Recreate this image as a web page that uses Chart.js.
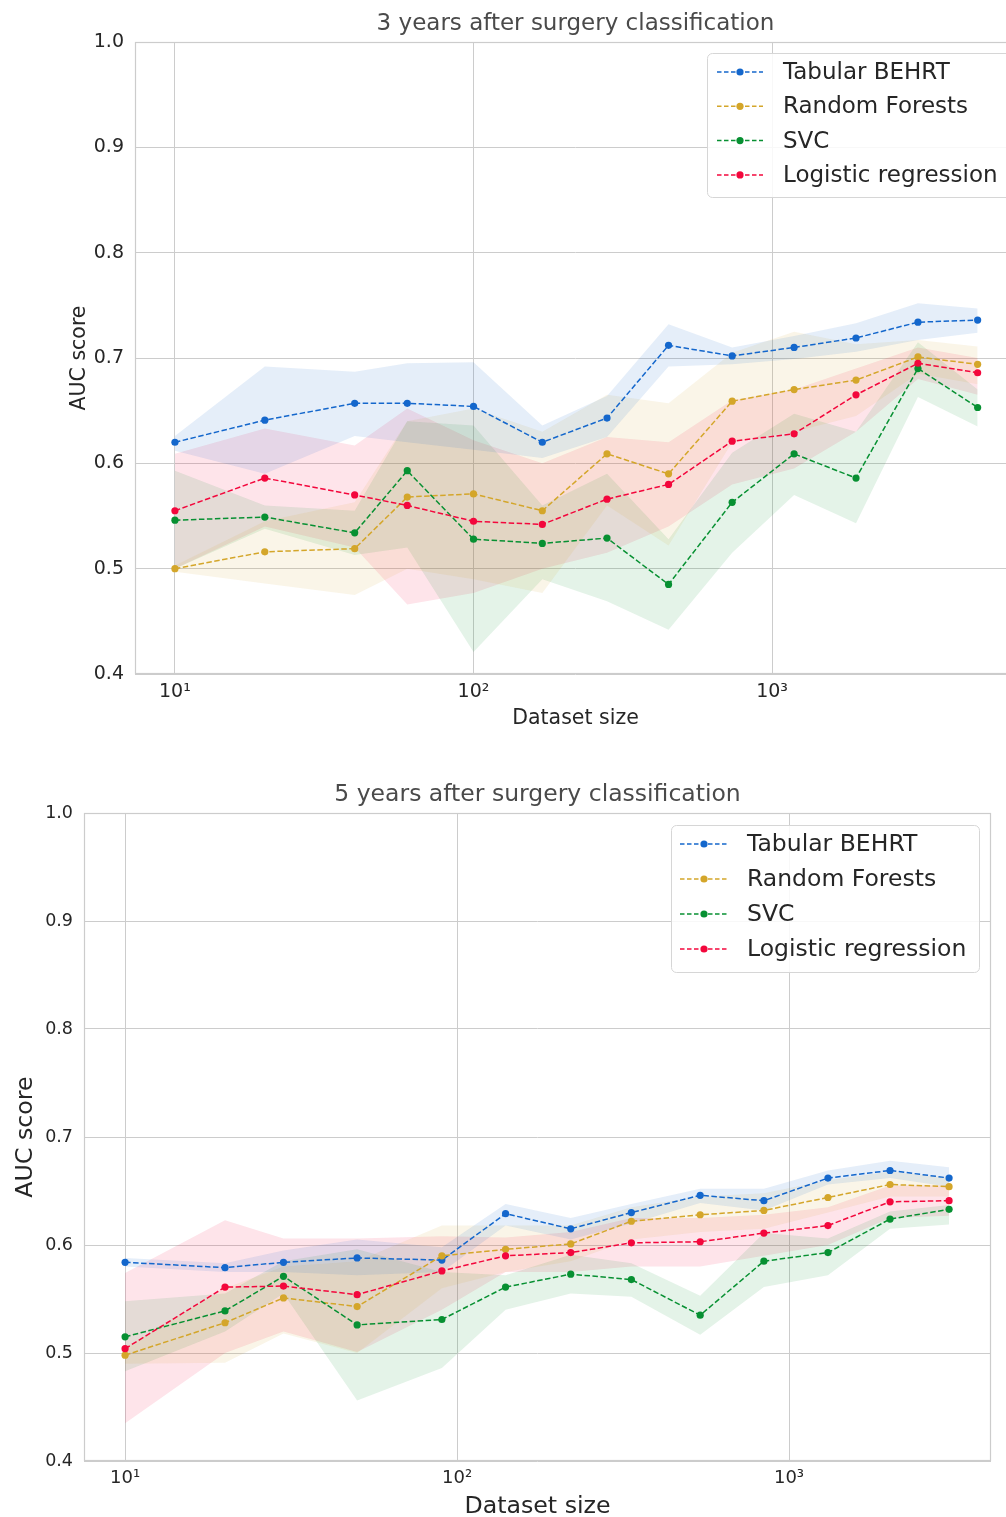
<!DOCTYPE html>
<html>
<head>
<meta charset="utf-8">
<script src="https://cdn.jsdelivr.net/npm/chart.js@4.4.1/dist/chart.umd.min.js"></script>
<style>
  html, body { margin: 0; padding: 0; background: #ffffff; width: 1006px; height: 1517px; overflow: hidden; }
  .panel { position: absolute; left: 0; }
  #panelTop { top: 0; }
  #panelBottom { top: 745px; }
</style>
</head>
<body>
<div class="panel" id="panelTop"><canvas id="chartTop" width="1020" height="745"></canvas></div>
<div class="panel" id="panelBottom"><canvas id="chartBottom" width="1006" height="780"></canvas></div>
<script>
// ---- shared labels ----
const seriesNames = ['Tabular BEHRT', 'Random Forests', 'SVC', 'Logistic regression'];
const seriesColors = ['#1467cc', '#d4a62a', '#079032', '#f3073c'];
const bandColors = ['rgba(20,103,204,0.11)', 'rgba(212,166,42,0.11)', 'rgba(7,144,50,0.11)', 'rgba(243,7,60,0.11)'];
const xTickValues = [10, 100, 1000];
const xTickLabels = ['10\u00B9', '10\u00B2', '10\u00B3'];

// ---- 3 years after surgery ----
const sizes3y = [10, 20, 40, 60, 100, 170, 280, 450, 735, 1185, 1910, 3080, 4880];
const behrt3y   = [0.620, 0.641, 0.657, 0.657, 0.654, 0.620, 0.643, 0.712, 0.702, 0.710, 0.719, 0.734, 0.736];
const behrt3yLo = [0.612, 0.590, 0.626, 0.620, 0.613, 0.605, 0.625, 0.692, 0.694, 0.699, 0.706, 0.717, 0.724];
const behrt3yHi = [0.626, 0.692, 0.687, 0.695, 0.696, 0.636, 0.664, 0.732, 0.710, 0.721, 0.733, 0.752, 0.747];
const rf3y   = [0.500, 0.516, 0.519, 0.568, 0.571, 0.555, 0.609, 0.590, 0.659, 0.670, 0.679, 0.701, 0.694];
const rf3yLo = [0.497, 0.486, 0.475, 0.500, 0.490, 0.477, 0.560, 0.522, 0.620, 0.630, 0.645, 0.685, 0.675];
const rf3yHi = [0.503, 0.545, 0.563, 0.640, 0.652, 0.630, 0.665, 0.657, 0.705, 0.725, 0.713, 0.717, 0.711];
const svc3y   = [0.546, 0.549, 0.534, 0.593, 0.528, 0.524, 0.529, 0.485, 0.563, 0.609, 0.586, 0.690, 0.653];
const svc3yLo = [0.500, 0.538, 0.513, 0.520, 0.421, 0.490, 0.469, 0.442, 0.515, 0.570, 0.543, 0.663, 0.635];
const svc3yHi = [0.593, 0.560, 0.555, 0.640, 0.636, 0.560, 0.590, 0.528, 0.610, 0.647, 0.630, 0.715, 0.670];
const lr3y   = [0.555, 0.586, 0.570, 0.560, 0.545, 0.542, 0.566, 0.580, 0.621, 0.628, 0.665, 0.695, 0.686];
const lr3yLo = [0.500, 0.540, 0.520, 0.466, 0.477, 0.500, 0.515, 0.540, 0.580, 0.595, 0.630, 0.680, 0.665];
const lr3yHi = [0.609, 0.633, 0.617, 0.652, 0.622, 0.600, 0.625, 0.620, 0.660, 0.670, 0.690, 0.710, 0.700];

// ---- 5 years after surgery ----
const sizes5y = [10, 20, 30, 50, 90, 140, 220, 335, 540, 840, 1310, 2015, 3035];
const behrt5y   = [0.584, 0.579, 0.584, 0.588, 0.586, 0.629, 0.615, 0.630, 0.646, 0.641, 0.662, 0.669, 0.662];
const behrt5yLo = [0.580, 0.575, 0.575, 0.572, 0.575, 0.618, 0.605, 0.620, 0.639, 0.632, 0.656, 0.662, 0.654];
const behrt5yHi = [0.588, 0.583, 0.595, 0.605, 0.598, 0.638, 0.625, 0.638, 0.652, 0.652, 0.669, 0.678, 0.672];
const rf5y   = [0.498, 0.528, 0.551, 0.543, 0.590, 0.596, 0.601, 0.622, 0.628, 0.632, 0.644, 0.656, 0.654];
const rf5yLo = [0.490, 0.491, 0.518, 0.500, 0.560, 0.575, 0.585, 0.605, 0.612, 0.615, 0.630, 0.645, 0.645];
const rf5yHi = [0.505, 0.560, 0.580, 0.585, 0.618, 0.618, 0.618, 0.635, 0.645, 0.648, 0.660, 0.668, 0.662];
const svc5y   = [0.515, 0.539, 0.571, 0.526, 0.531, 0.561, 0.573, 0.568, 0.535, 0.585, 0.593, 0.624, 0.633];
const svc5yLo = [0.483, 0.520, 0.555, 0.456, 0.486, 0.540, 0.555, 0.552, 0.517, 0.561, 0.572, 0.615, 0.619];
const svc5yHi = [0.548, 0.555, 0.585, 0.596, 0.575, 0.572, 0.591, 0.583, 0.553, 0.611, 0.606, 0.631, 0.637];
const lr5y   = [0.504, 0.561, 0.562, 0.554, 0.576, 0.590, 0.593, 0.602, 0.603, 0.611, 0.618, 0.640, 0.641];
const lr5yLo = [0.435, 0.500, 0.520, 0.501, 0.540, 0.575, 0.575, 0.580, 0.580, 0.590, 0.600, 0.625, 0.627];
const lr5yHi = [0.574, 0.623, 0.606, 0.606, 0.608, 0.607, 0.612, 0.625, 0.625, 0.628, 0.635, 0.655, 0.655];

const FONT = "'DejaVu Sans', sans-serif";
const TEXT = '#262626';

// Frame around the plotting area (all four spines)
const framePlugin = {
  id: 'frame',
  afterDatasetsDraw(chart, args, o) {
    const { ctx, chartArea: a } = chart;
    ctx.save();
    ctx.strokeStyle = o.color;
    ctx.lineWidth = 1.2;
    ctx.strokeRect(a.left + 0.5, a.top + 0.5, a.right - a.left - 1, a.bottom - a.top - 1);
    ctx.restore();
  }
};

// Boxed legend placed inside the plotting area
const boxLegendPlugin = {
  id: 'boxLegend',
  afterDraw(chart, args, o) {
    const ctx = chart.ctx;
    ctx.save();
    ctx.beginPath();
    ctx.roundRect(o.x + 0.5, o.y + 0.5, o.w, o.h, 5);
    ctx.fillStyle = 'rgba(255,255,255,0.85)';
    ctx.fill();
    ctx.strokeStyle = '#d6d6d6';
    ctx.lineWidth = 1;
    ctx.stroke();
    const means = chart.data.datasets.filter(d => d.role === 'mean');
    means.forEach((d, i) => {
      const cy = o.y0 + i * o.rowH;
      ctx.setLineDash([4.5, 2.5]);
      ctx.strokeStyle = d.borderColor;
      ctx.lineWidth = 1.5;
      ctx.beginPath();
      ctx.moveTo(o.lineX0, cy);
      ctx.lineTo(o.lineX1, cy);
      ctx.stroke();
      ctx.setLineDash([]);
      ctx.beginPath();
      ctx.arc((o.lineX0 + o.lineX1) / 2, cy, 3.6, 0, Math.PI * 2);
      ctx.fillStyle = d.borderColor;
      ctx.fill();
      ctx.fillStyle = TEXT;
      ctx.font = o.fontSize + 'px ' + FONT;
      ctx.textBaseline = 'middle';
      ctx.textAlign = 'left';
      ctx.fillText(d.label, o.textX, cy + 1);
    });
    ctx.restore();
  }
};

function pts(xs, ys) { return xs.map((x, i) => ({ x: x, y: ys[i] })); }

function buildDatasets(sizes, groups) {
  const sets = [];
  groups.forEach((g, k) => {
    sets.push({ label: seriesNames[k] + ' lower', role: 'band', data: pts(sizes, g[1]),
      borderWidth: 0, pointRadius: 0, fill: false, borderColor: 'transparent' });
    sets.push({ label: seriesNames[k] + ' upper', role: 'band', data: pts(sizes, g[2]),
      borderWidth: 0, pointRadius: 0, fill: '-1', borderColor: 'transparent', backgroundColor: bandColors[k] });
  });
  groups.forEach((g, k) => {
    sets.push({ label: seriesNames[k], role: 'mean', data: pts(sizes, g[0]),
      borderColor: seriesColors[k], backgroundColor: seriesColors[k],
      borderWidth: 1.5, borderDash: [5.5, 2.5], fill: false, tension: 0,
      pointRadius: 3.6, pointBackgroundColor: seriesColors[k], pointBorderWidth: 0,
      order: 10 - k });
  });
  return sets;
}

function makeChart(id, cfg) {
  return new Chart(document.getElementById(id), {
    type: 'line',
    data: { datasets: buildDatasets(cfg.sizes, cfg.groups) },
    options: {
      responsive: false,
      animation: false,
      devicePixelRatio: 1,
      layout: { padding: cfg.padding },
      plugins: {
        legend: { display: false },
        tooltip: { enabled: false },
        filler: { drawTime: 'beforeDatasetsDraw' },
        title: {
          display: true, text: cfg.title, fullSize: false, color: '#4a4a4a',
          font: { family: FONT, size: cfg.titleSize, weight: 'normal', lineHeight: 1.2 },
          padding: cfg.titlePad
        },
        frame: { color: '#cccccc' },
        boxLegend: cfg.legend
      },
      scales: {
        x: {
          type: 'logarithmic', min: cfg.xMin, max: cfg.xMax,
          afterBuildTicks: s => { s.ticks = xTickValues.map(v => ({ value: v })); },
          afterFit: s => { s.height = cfg.xAxisH; },
          ticks: {
            autoSkip: false, maxRotation: 0, color: TEXT, padding: cfg.xTickPad,
            font: { family: FONT, size: cfg.xTickSize },
            callback: v => { const i = xTickValues.indexOf(v); return i >= 0 ? xTickLabels[i] : ''; }
          },
          grid: { color: '#cccccc', lineWidth: 1, drawTicks: false },
          border: { display: false },
          title: { display: true, text: 'Dataset size', color: TEXT,
            font: { family: FONT, size: cfg.axisTitleSize, lineHeight: 1.2 },
            padding: { top: 0, bottom: cfg.xTitlePadBottom } }
        },
        y: {
          min: 0.4, max: 1.0,
          afterFit: s => { s.width = cfg.yAxisW; },
          ticks: { stepSize: 0.1, color: TEXT, padding: 11,
            font: { family: FONT, size: cfg.yTickSize },
            callback: v => v.toFixed(1) },
          grid: { color: '#cccccc', lineWidth: 1, drawTicks: false },
          border: { display: false },
          title: { display: true, text: 'AUC score', color: TEXT,
            font: { family: FONT, size: cfg.axisTitleSize, lineHeight: 1.2 },
            padding: { top: 4, bottom: 0 } }
        }
      }
    },
    plugins: [framePlugin, boxLegendPlugin]
  });
}

makeChart('chartTop', {
  title: '3 years after surgery classification',
  sizes: sizes3y,
  groups: [[behrt3y, behrt3yLo, behrt3yHi], [rf3y, rf3yLo, rf3yHi], [svc3y, svc3yLo, svc3yHi], [lr3y, lr3yLo, lr3yHi]],
  xMin: 7.35, xMax: 6560,
  padding: { left: 63, right: 1, top: 0, bottom: 0 },
  titleSize: 23, titlePad: { top: 10.2, bottom: 4.2 },
  xAxisH: 71, yAxisW: 72,
  xTickSize: 19, yTickSize: 19, xTickPad: 7,
  axisTitleSize: 20.5, xTitlePadBottom: 13.7,
  legend: { x: 707, y: 53, w: 312, h: 144, y0: 72, rowH: 34.3, lineX0: 717, lineX1: 763, textX: 783, fontSize: 23 }
});

makeChart('chartBottom', {
  title: '5 years after surgery classification',
  sizes: sizes5y,
  groups: [[behrt5y, behrt5yLo, behrt5yHi], [rf5y, rf5yLo, rf5yHi], [svc5y, svc5yLo, svc5yHi], [lr5y, lr5yLo, lr5yHi]],
  xMin: 7.52, xMax: 4059,
  padding: { left: 8, right: 15, top: 0, bottom: 0 },
  titleSize: 23.5, titlePad: { top: 35.9, bottom: 3.9 },
  xAxisH: 64, yAxisW: 76,
  xTickSize: 18, yTickSize: 17.5, xTickPad: 7,
  axisTitleSize: 23.7, xTitlePadBottom: 3.8,
  legend: { x: 671, y: 80, w: 308, h: 147, y0: 99, rowH: 35, lineX0: 680, lineX1: 728, textX: 747, fontSize: 23.5 }
});
</script>
</body>
</html>
